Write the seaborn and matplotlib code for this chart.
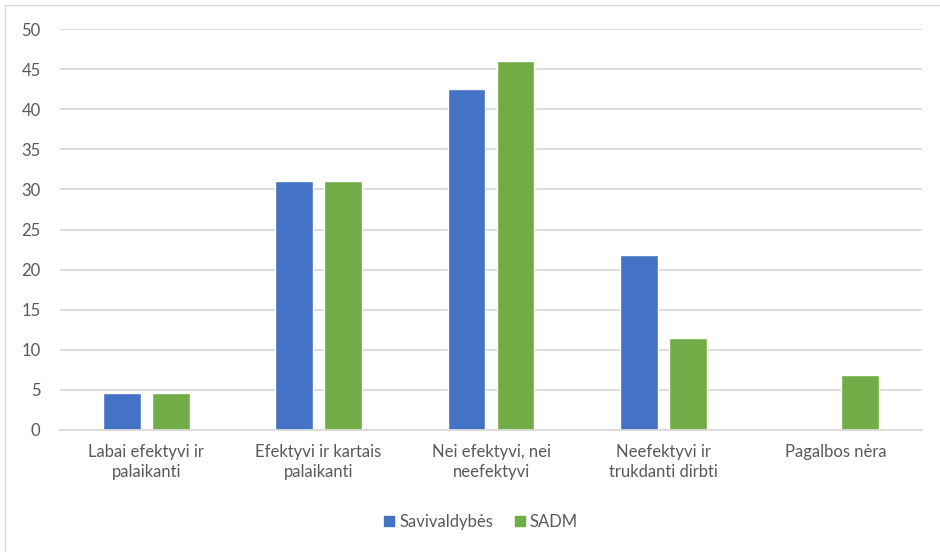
import seaborn as sns
import pandas as pd
from matplotlib import pyplot as plt
import matplotlib.patches as mpatches

categories = ['Labai efektyvi ir\npalaikanti', 'Efektyvi ir kartais\npalaikanti',
              'Nei efektyvi, nei\nneefektyvi', 'Neefektyvi ir\ntrukdanti dirbti', 'Pagalbos nėra']
savivaldybes = [4.6, 31.0, 42.5, 21.8, 0.0]
sadm = [4.6, 31.0, 46.0, 11.5, 6.9]
series = ['Savivaldybės', 'SADM']
colors = ['#4472C4', '#70AD47']

df = pd.DataFrame({
    'cat': categories * 2,
    'val': savivaldybes + sadm,
    'series': [series[0]] * 5 + [series[1]] * 5,
})

sns.set_style('white')
plt.rcParams['font.family'] = ['Lato', 'DejaVu Sans']

fig = plt.figure(figsize=(9.4, 5.52), dpi=100)
ax = fig.add_axes([60 / 940, 1 - 430 / 552, 862 / 940, 401 / 552])

sns.barplot(data=df, x='cat', y='val', hue='series', palette=colors,
            width=0.57, gap=0.23, ax=ax, legend=False, saturation=1)

ax.set_ylim(0, 50)
ax.set_xlim(-0.5, 4.5)
ax.set_yticks(range(0, 51, 5))
ax.yaxis.grid(True, color='#d9d9d9', linewidth=1.3)
ax.set_axisbelow(True)
for s in ['top', 'right', 'left']:
    ax.spines[s].set_visible(False)
ax.spines['bottom'].set_color('#d9d9d9')
ax.spines['bottom'].set_linewidth(1.3)
ax.tick_params(axis='both', length=0, labelsize=12, colors='#595959')
ax.tick_params(axis='x', pad=10)
ax.tick_params(axis='y', pad=14)
for lbl in ax.get_yticklabels():
    lbl.set_horizontalalignment('right')
for lbl in ax.get_xticklabels():
    lbl.set_linespacing(1.35)
ax.set_xlabel('')
ax.set_ylabel('')

handles = [mpatches.Patch(color=c, label=s) for c, s in zip(colors, series)]
fig.legend(handles=handles, loc='center', bbox_to_anchor=(481 / 940, 1 - 522 / 552),
           ncol=2, frameon=False, fontsize=12, labelcolor='#595959',
           handlelength=0.6, handleheight=0.6, handletextpad=0.3, columnspacing=1.3)

fig.patches.append(mpatches.Rectangle((5 / 940, -0.01), 1.0, 1 - 5 / 552 + 0.01,
                                      transform=fig.transFigure, fill=False,
                                      edgecolor='#d9d9d9', linewidth=1))

fig.savefig('out.png', dpi=100)
